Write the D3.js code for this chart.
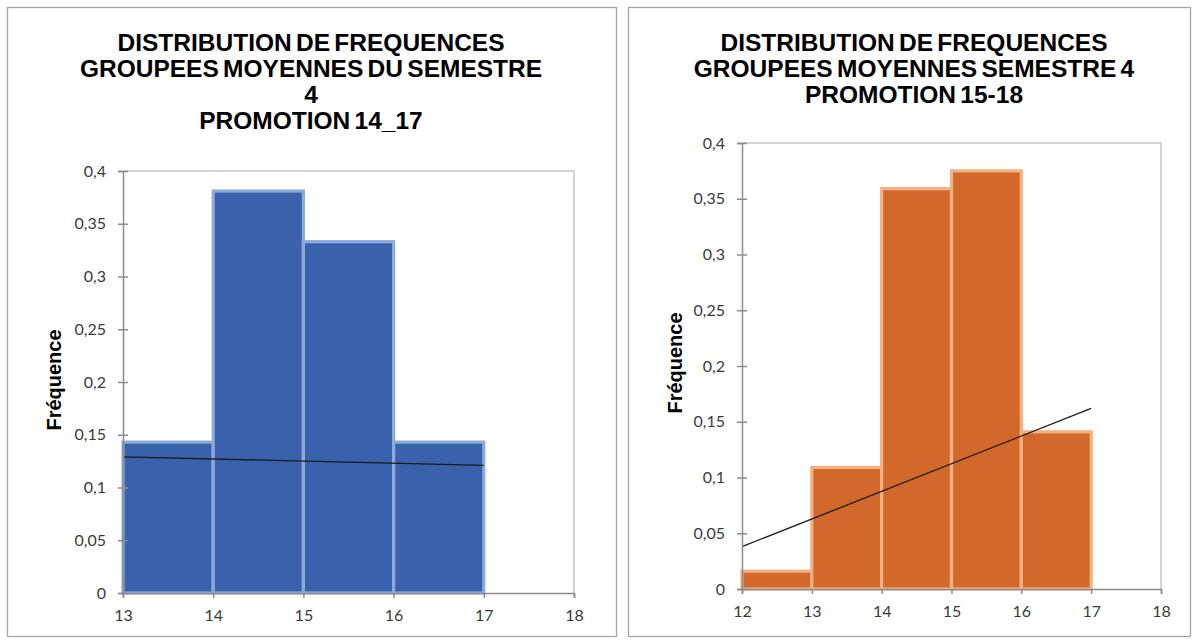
<!DOCTYPE html>
<html>
<head>
<meta charset="utf-8">
<script src="https://cdn.jsdelivr.net/npm/d3@7"></script>
<style>
  body { margin: 0; background: #fff; }
  svg { display: block; }
</style>
</head>
<body>
<div id="chart"></div>
<script>
// data
const leftTitle = ['DISTRIBUTION DE FREQUENCES', 'GROUPEES MOYENNES DU SEMESTRE', '4', 'PROMOTION 14_17']
const leftEdges = [13, 14, 15, 16, 17]
const leftFreq = [0.143, 0.381, 0.333, 0.143]
const leftTrend = [[13, 0.129], [17, 0.121]]
const leftXTicks = [13, 14, 15, 16, 17, 18]

const rightTitle = ['DISTRIBUTION DE FREQUENCES', 'GROUPEES MOYENNES SEMESTRE 4', 'PROMOTION 15-18']
const rightEdges = [12, 13, 14, 15, 16, 17]
const rightFreq = [0.016, 0.109, 0.359, 0.375, 0.141]
const rightTrend = [[12, 0.038], [17, 0.162]]
const rightXTicks = [12, 13, 14, 15, 16, 17, 18]

const yTicks = [0, 0.05, 0.1, 0.15, 0.2, 0.25, 0.3, 0.35, 0.4]
const yLabel = 'Fréquence'

const width = 1196
const height = 641

const svg = d3.select('#chart')
  .append('svg')
  .attr('width', width)
  .attr('height', height)

const frFormat = v => String(v).replace('.', ',')

function drawPanel(cfg) {
  const g = svg.append('g')

  // outer frame
  g.append('rect')
    .attr('x', cfg.box[0] + 0.5)
    .attr('y', cfg.box[1] + 0.5)
    .attr('width', cfg.box[2])
    .attr('height', cfg.box[3])
    .attr('fill', '#fff')
    .attr('stroke', '#a6a6a6')
    .attr('stroke-width', 1.3)

  // title
  const title = g.append('text')
    .attr('text-anchor', 'middle')
    .attr('font-family', 'Liberation Sans, Arial, sans-serif')
    .attr('font-weight', 'bold')
    .attr('font-size', 24.5)
    .attr('word-spacing', -2.5)
    .attr('fill', '#000')
  title.selectAll('tspan')
    .data(cfg.title)
    .enter()
    .append('tspan')
    .attr('x', cfg.titleX)
    .attr('y', (_, i) => cfg.titleY + i * 26)
    .text(d => d)

  const x = d3.scaleLinear()
    .domain(d3.extent(cfg.xTicks))
    .range([cfg.plot[0], cfg.plot[1]])
  const y = d3.scaleLinear()
    .domain([0, 0.4])
    .range([cfg.plot[3], cfg.plot[2]])

  // plot area border (top / right)
  g.append('path')
    .attr('d', `M${x.range()[0]},${y(0.4)}H${x.range()[1]}V${y(0)}`)
    .attr('fill', 'none')
    .attr('stroke', '#c8c8c8')
    .attr('stroke-width', 1.5)

  // bars
  const bars = cfg.freq.map((f, i) => ({ x0: cfg.edges[i], x1: cfg.edges[i + 1], f }))
  g.selectAll('rect.bar')
    .data(bars)
    .enter()
    .append('rect')
    .attr('class', 'bar')
    .attr('x', d => x(d.x0))
    .attr('y', d => y(d.f))
    .attr('width', d => x(d.x1) - x(d.x0))
    .attr('height', d => y(0) - y(d.f))
    .attr('fill', cfg.fill)
    .attr('stroke', cfg.stroke)
    .attr('stroke-width', 3.2)

  // trend line
  const line = d3.line()
    .x(d => x(d[0]))
    .y(d => y(d[1]))
  g.append('path')
    .attr('d', line(cfg.trend))
    .attr('fill', 'none')
    .attr('stroke', '#1a1a1a')
    .attr('stroke-width', 1.3)

  // axes
  const yAxis = d3.axisLeft(y)
    .tickValues(yTicks)
    .tickFormat(frFormat)
    .tickSize(5)
    .tickPadding(12)
  const ya = g.append('g')
    .attr('transform', `translate(${x.range()[0]},0)`)
    .call(yAxis)
  ya.selectAll('.tick line').attr('x2', -5).attr('x1', 5)

  const xAxis = d3.axisBottom(x)
    .tickValues(cfg.xTicks)
    .tickFormat(d => d)
    .tickSize(5)
    .tickPadding(12)
  g.append('g')
    .attr('transform', `translate(0,${y(0)})`)
    .call(xAxis)

  g.selectAll('.domain, .tick line')
    .attr('stroke', '#8c8c8c')
    .attr('stroke-width', 1.5)
  g.selectAll('.tick text')
    .attr('font-family', 'Lato, Calibri, sans-serif')
    .attr('font-size', 16)
    .attr('fill', '#3a3a3a')

  // y axis title
  g.append('text')
    .attr('transform', `translate(${cfg.yLabelX},${(y(0) + y(0.4)) / 2 + cfg.yLabelShift}) rotate(-90)`)
    .attr('text-anchor', 'middle')
    .attr('font-family', 'Liberation Sans, Arial, sans-serif')
    .attr('font-weight', 'bold')
    .attr('font-size', 20)
    .text(yLabel)
}

drawPanel({
  box: [7, 7, 609, 629],
  title: leftTitle,
  titleX: 311,
  titleY: 51,
  plot: [123, 574, 171, 593],
  edges: leftEdges,
  freq: leftFreq,
  trend: leftTrend,
  xTicks: leftXTicks,
  fill: '#3a62ac',
  stroke: '#8eaadb',
  yLabelX: 61,
  yLabelShift: -2
})

drawPanel({
  box: [628, 7, 562, 629],
  title: rightTitle,
  titleX: 914,
  titleY: 51,
  plot: [742, 1161, 143, 589],
  edges: rightEdges,
  freq: rightFreq,
  trend: rightTrend,
  xTicks: rightXTicks,
  fill: '#d2692a',
  stroke: '#f4b183',
  yLabelX: 682,
  yLabelShift: -3
})
</script>
</body>
</html>
